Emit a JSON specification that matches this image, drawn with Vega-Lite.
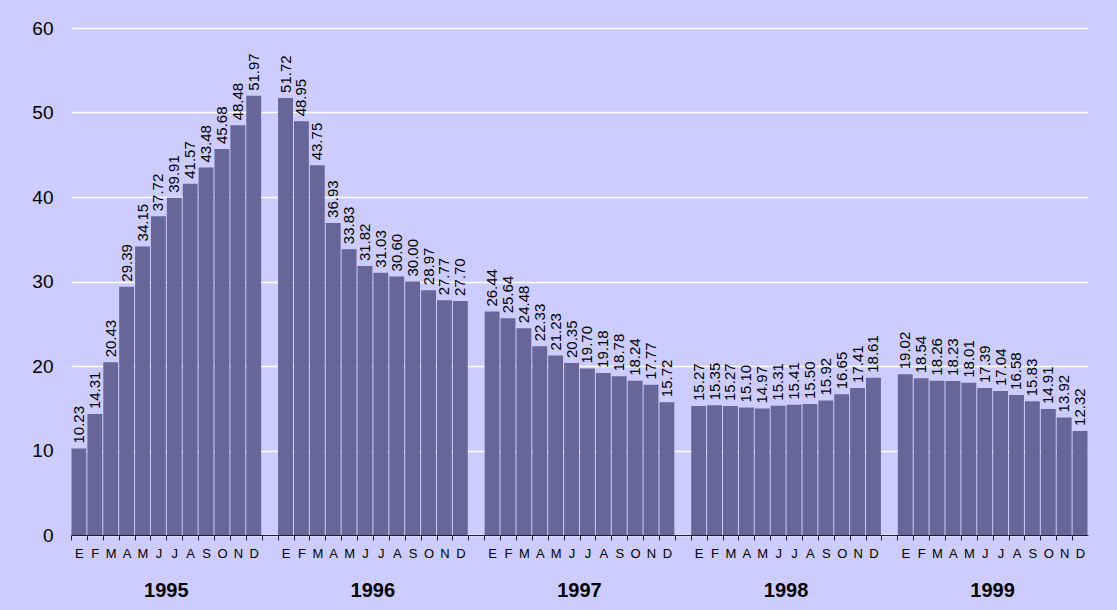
{
  "$schema": "https://vega.github.io/schema/vega-lite/v6.json",
  "width": 1017,
  "height": 507,
  "autosize": {"type": "none"},
  "padding": {"left": 71, "top": 28, "right": 29, "bottom": 75},
  "background": "#CCCCFF",
  "config": {
    "view": {"stroke": null},
    "font": "Liberation Sans"
  },
  "data": {
    "values": [
      {"slot": "1995-01", "year": "1995", "value": 10.23}, {"slot": "1995-02", "year": "1995", "value": 14.31}, {"slot": "1995-03", "year": "1995", "value": 20.43},
      {"slot": "1995-04", "year": "1995", "value": 29.39}, {"slot": "1995-05", "year": "1995", "value": 34.15}, {"slot": "1995-06", "year": "1995", "value": 37.72},
      {"slot": "1995-07", "year": "1995", "value": 39.91}, {"slot": "1995-08", "year": "1995", "value": 41.57}, {"slot": "1995-09", "year": "1995", "value": 43.48},
      {"slot": "1995-10", "year": "1995", "value": 45.68}, {"slot": "1995-11", "year": "1995", "value": 48.48}, {"slot": "1995-12", "year": "1995", "value": 51.97},
      {"slot": "1996-01", "year": "1996", "value": 51.72}, {"slot": "1996-02", "year": "1996", "value": 48.95}, {"slot": "1996-03", "year": "1996", "value": 43.75},
      {"slot": "1996-04", "year": "1996", "value": 36.93}, {"slot": "1996-05", "year": "1996", "value": 33.83}, {"slot": "1996-06", "year": "1996", "value": 31.82},
      {"slot": "1996-07", "year": "1996", "value": 31.03}, {"slot": "1996-08", "year": "1996", "value": 30.60}, {"slot": "1996-09", "year": "1996", "value": 30.00},
      {"slot": "1996-10", "year": "1996", "value": 28.97}, {"slot": "1996-11", "year": "1996", "value": 27.77}, {"slot": "1996-12", "year": "1996", "value": 27.70},
      {"slot": "1997-01", "year": "1997", "value": 26.44}, {"slot": "1997-02", "year": "1997", "value": 25.64}, {"slot": "1997-03", "year": "1997", "value": 24.48},
      {"slot": "1997-04", "year": "1997", "value": 22.33}, {"slot": "1997-05", "year": "1997", "value": 21.23}, {"slot": "1997-06", "year": "1997", "value": 20.35},
      {"slot": "1997-07", "year": "1997", "value": 19.70}, {"slot": "1997-08", "year": "1997", "value": 19.18}, {"slot": "1997-09", "year": "1997", "value": 18.78},
      {"slot": "1997-10", "year": "1997", "value": 18.24}, {"slot": "1997-11", "year": "1997", "value": 17.77}, {"slot": "1997-12", "year": "1997", "value": 15.72},
      {"slot": "1998-01", "year": "1998", "value": 15.27}, {"slot": "1998-02", "year": "1998", "value": 15.35}, {"slot": "1998-03", "year": "1998", "value": 15.27},
      {"slot": "1998-04", "year": "1998", "value": 15.10}, {"slot": "1998-05", "year": "1998", "value": 14.97}, {"slot": "1998-06", "year": "1998", "value": 15.31},
      {"slot": "1998-07", "year": "1998", "value": 15.41}, {"slot": "1998-08", "year": "1998", "value": 15.50}, {"slot": "1998-09", "year": "1998", "value": 15.92},
      {"slot": "1998-10", "year": "1998", "value": 16.65}, {"slot": "1998-11", "year": "1998", "value": 17.41}, {"slot": "1998-12", "year": "1998", "value": 18.61},
      {"slot": "1999-01", "year": "1999", "value": 19.02}, {"slot": "1999-02", "year": "1999", "value": 18.54}, {"slot": "1999-03", "year": "1999", "value": 18.26},
      {"slot": "1999-04", "year": "1999", "value": 18.23}, {"slot": "1999-05", "year": "1999", "value": 18.01}, {"slot": "1999-06", "year": "1999", "value": 17.39},
      {"slot": "1999-07", "year": "1999", "value": 17.04}, {"slot": "1999-08", "year": "1999", "value": 16.58}, {"slot": "1999-09", "year": "1999", "value": 15.83},
      {"slot": "1999-10", "year": "1999", "value": 14.91}, {"slot": "1999-11", "year": "1999", "value": 13.92}, {"slot": "1999-12", "year": "1999", "value": 12.32}
    ]
  },
  "encoding": {
    "x": {
      "field": "slot",
      "type": "nominal",
      "sort": null,
      "scale": {
        "domain": [
          "1995-01","1995-02","1995-03","1995-04","1995-05","1995-06","1995-07","1995-08","1995-09","1995-10","1995-11","1995-12","g1",
          "1996-01","1996-02","1996-03","1996-04","1996-05","1996-06","1996-07","1996-08","1996-09","1996-10","1996-11","1996-12","g2",
          "1997-01","1997-02","1997-03","1997-04","1997-05","1997-06","1997-07","1997-08","1997-09","1997-10","1997-11","1997-12","g3",
          "1998-01","1998-02","1998-03","1998-04","1998-05","1998-06","1998-07","1998-08","1998-09","1998-10","1998-11","1998-12","g4",
          "1999-01","1999-02","1999-03","1999-04","1999-05","1999-06","1999-07","1999-08","1999-09","1999-10","1999-11","1999-12"
        ],
        "paddingInner": 0.063,
        "paddingOuter": 0.0315
      },
      "axis": {
        "title": null,
        "labelAngle": 0,
        "labelFontSize": 13,
        "labelColor": "#000000",
        "labelPadding": 7,
        "tickOffset": -7.9,
        "labelOffset": 7.9,
        "tickSize": 5,
        "tickColor": "#222222",
        "domainColor": "#222222",
        "grid": false,
        "labelExpr": "indexof(datum.value, 'g') == 0 ? '' : substring('EFMAMJJASOND', toNumber(substring(datum.value, 5, 7)) - 1, toNumber(substring(datum.value, 5, 7)))"
      }
    },
    "y": {
      "field": "value",
      "type": "quantitative",
      "scale": {"domain": [0, 60], "nice": false},
      "axis": {
        "title": null,
        "values": [0, 10, 20, 30, 40, 50, 60],
        "grid": true,
        "gridColor": "#FFFFFF",
        "gridWidth": 1.5,
        "domain": false,
        "ticks": false,
        "labelPadding": 18,
        "labelFontSize": 19,
        "labelColor": "#000000"
      }
    }
  },
  "layer": [
    {
      "mark": {"type": "bar", "color": "#666699"}
    },
    {
      "mark": {
        "type": "text",
        "angle": 270,
        "align": "left",
        "baseline": "middle",
        "dx": 5,
        "fontSize": 15,
        "color": "#000000"
      },
      "encoding": {
        "text": {"field": "value", "type": "quantitative", "format": ".2f"}
      }
    },
    {
      "transform": [{"filter": "substring(datum.slot, 5, 7) == '07'"}],
      "mark": {
        "type": "text",
        "fontSize": 20,
        "fontWeight": "bold",
        "baseline": "middle",
        "align": "center",
        "dx": -8,
        "dy": 56,
        "color": "#000000"
      },
      "encoding": {
        "y": {"datum": 0, "type": "quantitative"},
        "text": {"field": "year", "type": "nominal"}
      }
    }
  ]
}
